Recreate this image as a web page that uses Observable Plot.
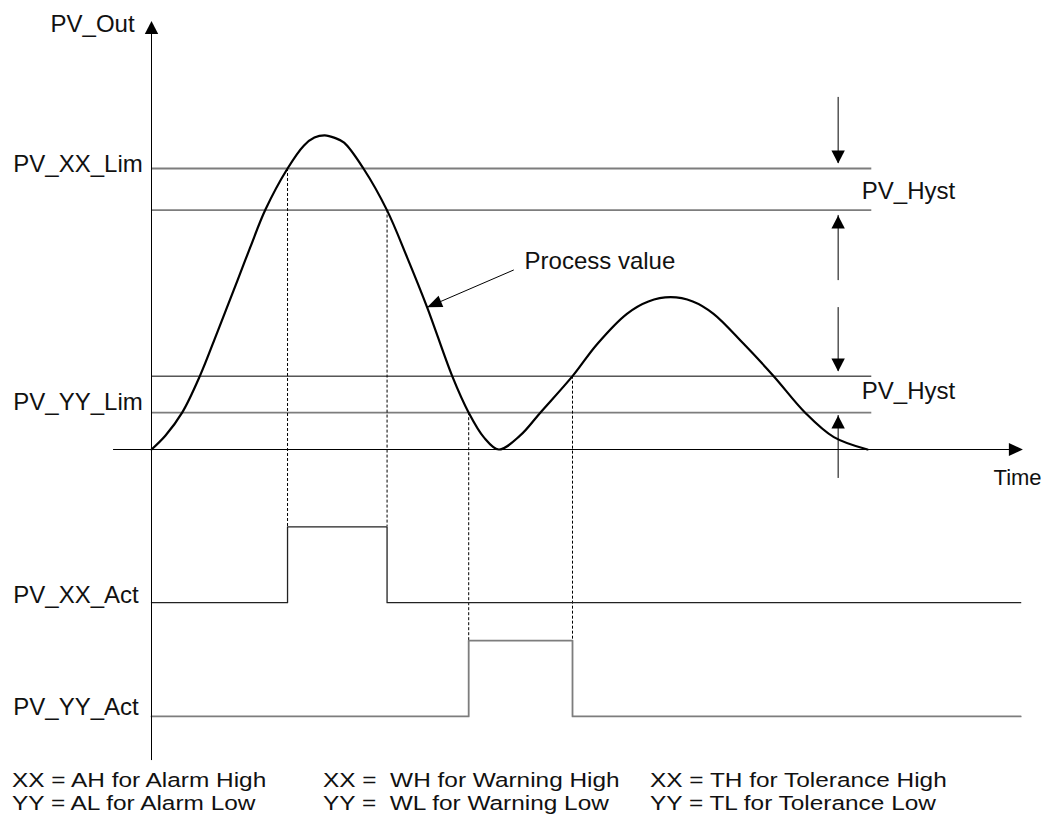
<!DOCTYPE html>
<html>
<head>
<meta charset="utf-8">
<script src="https://cdn.jsdelivr.net/npm/d3@7"></script>
<script src="https://cdn.jsdelivr.net/npm/@observablehq/plot@0.6"></script>
<style>
  html, body { margin: 0; padding: 0; background: #fff; }
  #chart svg { display: block; }
  #legend { position: relative; width: 1045px; height: 59px; font-family: "Liberation Sans", Arial, sans-serif; font-size: 20.5px; color: #111; }
  #legend span { position: absolute; white-space: pre; line-height: 24px; transform: scaleX(1.19); transform-origin: 0 0; }
</style>
</head>
<body>
<div id="chart"></div>
<div id="legend"></div>
<script>
// ---- data (time units on x, process-value units on y) ----
const pvTime  = [0, 1.96, 4.3, 6.75, 9.2, 12, 13.8, 15.9, 19, 21.3, 22.75, 24.2, 25.6, 26.9, 29.6, 32.9, 35.7, 38.5, 42, 44.3, 46.4, 48.5, 51.5, 54.3, 58.8, 62.2, 66.4, 69.4, 72.5, 75.6, 78.5, 82.7, 86.9, 91.3, 95.3, 100];
const pvValue = [0, 5, 13.2, 26.1, 41.8, 60.1, 72, 85.3, 100, 108.2, 111, 111.8, 110.9, 109.2, 100, 85.1, 68.4, 50.6, 26.1, 13.1, 4.4, 0, 5, 13.1, 26.1, 37.4, 48.3, 52.7, 54.2, 52.7, 48.3, 37.6, 26.1, 13.1, 4.4, 0];

const limitNames  = ["PV_XX_Lim", "PV_XX_Lim - PV_Hyst", "PV_YY_Lim + PV_Hyst", "PV_YY_Lim"];
const limitValues = [100, 85.2, 26.1, 13.1];
const limitEnd = 100.6;

const xxActTime  = [0, 19, 32.9, 121.4];
const xxActState = [0, 1, 0, 0];
const yyActTime  = [0, 44.3, 58.8, 121.4];
const yyActState = [0, 1, 0, 0];
const xxActLow = -54.5, yyActLow = -95, actStep = 27;

// dashed guides: switching time, level where curve crosses, signal high level
const guideTime  = [19, 32.9, 44.3, 58.8];
const guideFrom  = [100, 85.2, 13.1, 26.1];
const guideTo    = [-27.5, -27.5, -68, -68];

// hysteresis arrows
const hystX = 95.9;
const hystFrom = [125.3, 60.1, 50.5, -10.3];
const hystTip  = [101.8, 83.3, 27.8, 12.1];

// axes
const yAxisBottom = -110.7, yAxisTip = 152.5;
const xAxisStart = -5.3, xAxisTip = 121.7;

// labels
const leftLabels = ["PV_XX_Lim", "PV_YY_Lim", "PV_XX_Act", "PV_YY_Act"];
const leftLabelY = [101.4, 16.8, -52, -91.7];
const hystLabelY = [92, 20.6];
const pvArrowFrom = [50.6, 63.9], pvArrowTip = [38.5, 50.6];

const legendRow1 = ["XX = AH for Alarm High", "XX =  WH for Warning High", "XX = TH for Tolerance High"];
const legendRow2 = ["YY = AL for Alarm Low", "YY =  WL for Warning Low", "YY = TL for Tolerance Low"];

// ---- layout ----
const X_DOMAIN = [0, 100], X_RANGE = [151, 867];
const Y_DOMAIN = [0, 100], Y_RANGE = [449, 168];
const FONT = "Liberation Sans, Arial, sans-serif";
const GRAY = "#7d7d7d";

function head(angleDeg, len, half) {
  const a = angleDeg * Math.PI / 180, ux = Math.cos(a), uy = Math.sin(a);
  return {
    draw(ctx) {
      ctx.moveTo(0, 0);
      ctx.lineTo(-ux * len - uy * half, -uy * len + ux * half);
      ctx.lineTo(-ux * len + uy * half, -uy * len - ux * half);
      ctx.closePath();
    }
  };
}
const sx = d3.scaleLinear(X_DOMAIN, X_RANGE), sy = d3.scaleLinear(Y_DOMAIN, Y_RANGE);
const pvAngle = Math.atan2(sy(pvArrowTip[1]) - sy(pvArrowFrom[1]), sx(pvArrowTip[0]) - sx(pvArrowFrom[0])) * 180 / Math.PI;

const idx = (arr) => arr.map((_, i) => i);
const hystIdx = idx(hystFrom);
const upIdx = hystIdx.filter(i => hystTip[i] > hystFrom[i]);
const downIdx = hystIdx.filter(i => hystTip[i] < hystFrom[i]);

const textOpts = {fontFamily: FONT, fontSize: 24, fill: "#111", textAnchor: "start"};

const plot = Plot.plot({
  width: 1045,
  height: 762,
  x: {domain: X_DOMAIN, range: X_RANGE, axis: null},
  y: {domain: Y_DOMAIN, range: Y_RANGE, axis: null},
  marks: [
    // limit lines
    Plot.ruleY(idx(limitValues), {y: i => limitValues[i], x1: 0, x2: limitEnd,
      stroke: i => (limitNames[i] === "PV_YY_Lim + PV_Hyst" ? "#000" : GRAY),
      strokeWidth: i => (limitNames[i] === "PV_YY_Lim + PV_Hyst" ? 1 : 1.8)}),
    // dashed guides
    Plot.ruleX(idx(guideTime), {x: i => guideTime[i], y1: i => guideFrom[i], y2: i => guideTo[i],
      stroke: "#000", strokeWidth: 1, strokeDasharray: "3,2"}),
    // activation signals
    Plot.line(idx(xxActTime), {x: i => xxActTime[i], y: i => xxActLow + actStep * xxActState[i],
      curve: "step-after", stroke: "#222", strokeWidth: 1.3}),
    Plot.line(idx(yyActTime), {x: i => yyActTime[i], y: i => yyActLow + actStep * yyActState[i],
      curve: "step-after", stroke: GRAY, strokeWidth: 1.8}),
    // axes
    Plot.ruleY([0], {x1: xAxisStart, x2: xAxisTip - 1.5, stroke: "#000", strokeWidth: 1}),
    Plot.ruleX([0], {y1: yAxisBottom, y2: yAxisTip - 4, stroke: "#000", strokeWidth: 1}),
    Plot.dot([0], {x: 0, y: yAxisTip, symbol: head(-90, 13, 6.7), r: 5, fill: "#000", stroke: "none"}),
    Plot.dot([0], {x: xAxisTip, y: 0, symbol: head(0, 14, 6.5), r: 5, fill: "#000", stroke: "none"}),
    // hysteresis arrows
    Plot.ruleX(hystIdx, {x: hystX, y1: i => hystFrom[i], y2: i => hystTip[i], stroke: "#000", strokeWidth: 1}),
    Plot.dot(downIdx, {x: hystX, y: i => hystTip[i], symbol: head(90, 13, 6.7), r: 5, fill: "#000", stroke: "none"}),
    Plot.dot(upIdx, {x: hystX, y: i => hystTip[i], symbol: head(-90, 13, 6.7), r: 5, fill: "#000", stroke: "none"}),
    // process value curve
    Plot.line(idx(pvTime), {x: i => pvTime[i], y: i => pvValue[i], curve: "catmull-rom", stroke: "#000", strokeWidth: 2.2}),
    // process value annotation
    Plot.link([0], {x1: pvArrowFrom[0], y1: pvArrowFrom[1], x2: pvArrowTip[0], y2: pvArrowTip[1], stroke: "#000", strokeWidth: 1}),
    Plot.dot([0], {x: pvArrowTip[0], y: pvArrowTip[1], symbol: head(pvAngle, 15, 6), r: 5, fill: "#000", stroke: "none"}),
    Plot.text(["Process value"], {x: 52.1, y: 67.1, text: d => d, ...textOpts}),
    // labels
    Plot.text(["PV_Out"], {x: -14.1, y: 151.2, text: d => d, ...textOpts}),
    Plot.text(idx(leftLabels), {x: -19.3, y: i => leftLabelY[i], text: i => leftLabels[i], ...textOpts}),
    Plot.text(idx(hystLabelY), {x: 99.2, y: i => hystLabelY[i], text: () => "PV_Hyst", ...textOpts}),
    Plot.text(["Time"], {x: 117.6, y: -10.3, text: d => d, ...textOpts, fontSize: 22})
  ]
});
document.getElementById("chart").appendChild(plot);

// legend below the chart
const legend = document.getElementById("legend");
const colLeft = [12, 323, 650];
const rowTop = [6, 28.5];
[legendRow1, legendRow2].forEach((row, r) => {
  row.forEach((txt, c) => {
    const s = document.createElement("span");
    s.textContent = txt;
    s.style.left = colLeft[c] + "px";
    s.style.top = rowTop[r] + "px";
    legend.appendChild(s);
  });
});
</script>
</body>
</html>
